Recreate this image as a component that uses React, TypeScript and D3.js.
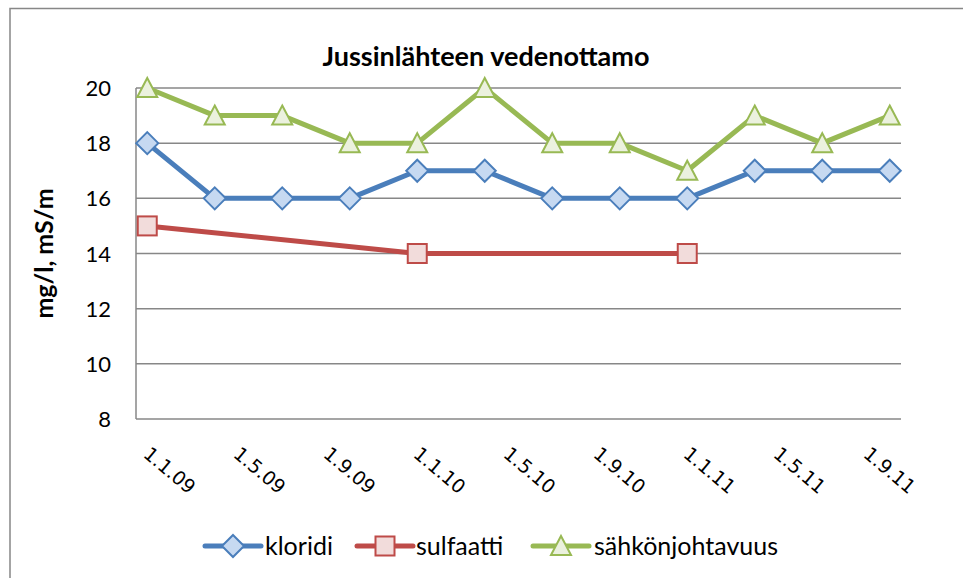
import React from "react";
import * as d3 from "d3";

// measurement dates (d.m.yy), quarterly
const dates = [
  "1.1.09", "1.4.09", "1.7.09", "1.10.09",
  "1.1.10", "1.4.10", "1.7.10", "1.10.10",
  "1.1.11", "1.4.11", "1.7.11", "1.10.11",
];
const kloridi = [18, 16, 16, 16, 17, 17, 16, 16, 16, 17, 17, 17];
const sulfaatti = [15, null, null, null, 14, null, null, null, 14, null, null, null];
const sahkonjohtavuus = [20, 19, 19, 18, 18, 20, 18, 18, 17, 19, 18, 19];

const xTickLabels = [
  "1.1.09", "1.5.09", "1.9.09", "1.1.10", "1.5.10",
  "1.9.10", "1.1.11", "1.5.11", "1.9.11",
];
const yTicks = [8, 10, 12, 14, 16, 18, 20];

const series = [
  { name: "kloridi", values: kloridi, stroke: "#4A7EBB", fill: "#C6D9F1", marker: "diamond" },
  { name: "sulfaatti", values: sulfaatti, stroke: "#BE4B48", fill: "#F2DCDB", marker: "square" },
  { name: "sähkönjohtavuus", values: sahkonjohtavuus, stroke: "#98B954", fill: "#EBF1DE", marker: "triangle" },
];

// months since Jan 2009
const monthIndex = (s: string) => {
  const [, m, y] = s.split(".").map(Number);
  return (y - 9) * 12 + (m - 1);
};

const W = 963;
const H = 578;
const plot = { left: 136, right: 901, top: 88, bottom: 419 };
const FONT = "Lato, 'Open Sans', sans-serif";

const Marker = ({ type, x, y, stroke, fill }) => {
  if (type === "diamond") {
    const r = 11;
    return (
      <path
        d={`M${x},${y - r}L${x + r},${y}L${x},${y + r}L${x - r},${y}Z`}
        fill={fill} stroke={stroke} strokeWidth={2}
      />
    );
  }
  if (type === "square") {
    return <rect x={x - 9.5} y={y - 9.5} width={19} height={19} fill={fill} stroke={stroke} strokeWidth={2} />;
  }
  return (
    <path
      d={`M${x},${y - 10}L${x + 10},${y + 9}L${x - 10},${y + 9}Z`}
      fill={fill} stroke={stroke} strokeWidth={2}
    />
  );
};

export default function App() {
  const lastMonth = monthIndex(dates[dates.length - 1]);
  const x = d3.scaleLinear().domain([-0.5, lastMonth + 0.5]).range([plot.left, plot.right]);
  const y = d3.scaleLinear().domain([8, 20]).range([plot.bottom, plot.top]);

  const line = d3
    .line<{ m: number; v: number }>()
    .x((d) => x(d.m))
    .y((d) => y(d.v));

  const legendItems = [
    { cx: 233, tx: 265 },
    { cx: 385, tx: 416 },
    { cx: 561, tx: 594 },
  ];

  return (
    <svg width={W} height={H} style={{ position: "absolute", left: 0, top: 0, background: "#fff" }}>
      <rect x={10} y={8.5} width={W + 20} height={H + 20} fill="#fff" stroke="#878787" strokeWidth={1.5} />

      <text x={486} y={66} textAnchor="middle" fontFamily={FONT} fontWeight="bold" fontSize={27} fill="#000">
        Jussinlähteen vedenottamo
      </text>

      {/* grid */}
      {yTicks.map((t) => (
        <line key={t} x1={plot.left} x2={plot.right} y1={y(t)} y2={y(t)} stroke="#878787" strokeWidth={1.5} />
      ))}
      <line x1={plot.left} x2={plot.left} y1={plot.top} y2={plot.bottom} stroke="#878787" strokeWidth={1.5} />

      {yTicks.map((t) => (
        <text key={t} x={111} y={y(t) + 8} textAnchor="end" fontFamily={FONT} fontSize={22} fill="#000">
          {t}
        </text>
      ))}

      <text
        transform={`translate(53,${(plot.top + plot.bottom) / 2}) rotate(-90)`}
        textAnchor="middle" fontFamily={FONT} fontWeight="bold" fontSize={25} fill="#000"
      >
        mg/l, mS/m
      </text>

      {xTickLabels.map((l) => (
        <text
          key={l}
          transform={`translate(${x(monthIndex(l)) - 5},456) rotate(40)`}
          fontFamily="'DejaVu Sans', Verdana, sans-serif" fontSize={19} fill="#000"
        >
          {l}
        </text>
      ))}

      {series.map((s) => {
        const pts = s.values
          .map((v, i) => ({ m: monthIndex(dates[i]), v }))
          .filter((d) => d.v !== null) as { m: number; v: number }[];
        return (
          <g key={s.name}>
            <path d={line(pts) ?? ""} fill="none" stroke={s.stroke} strokeWidth={5} strokeLinejoin="round" />
            {pts.map((d) => (
              <Marker key={d.m} type={s.marker} x={x(d.m)} y={y(d.v)} stroke={s.stroke} fill={s.fill} />
            ))}
          </g>
        );
      })}

      {/* legend */}
      {series.map((s, i) => {
        const { cx, tx } = legendItems[i];
        return (
          <g key={s.name}>
            <line x1={cx - 28} x2={cx + 28} y1={546} y2={546} stroke={s.stroke} strokeWidth={5} strokeLinecap="round" />
            <Marker type={s.marker} x={cx} y={546} stroke={s.stroke} fill={s.fill} />
            <text x={tx} y={555} fontFamily={FONT} fontSize={25} fill="#000">
              {s.name}
            </text>
          </g>
        );
      })}
    </svg>
  );
}
